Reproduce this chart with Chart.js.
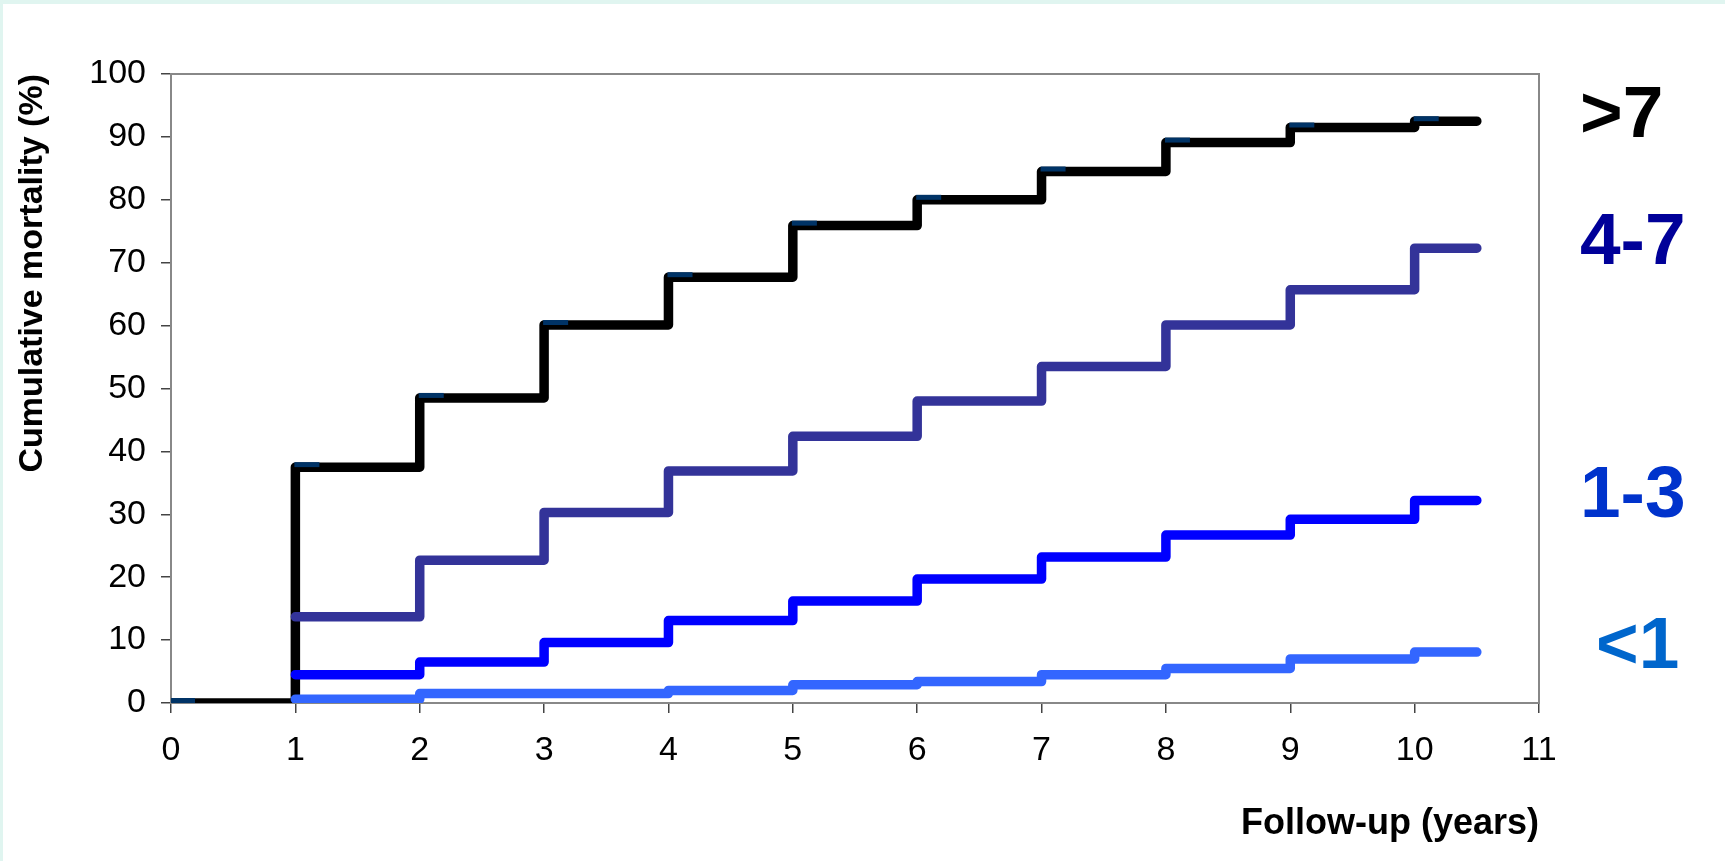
<!DOCTYPE html>
<html>
  <head>
    <meta charset="utf-8">
    <script src="https://cdn.jsdelivr.net/npm/chart.js@4.4.1/dist/chart.umd.min.js"></script>
    <style>
      body { margin: 0; background: #e0f5f0; }
      #wrap { position: absolute; left: 3px; top: 4px; width: 1722px; height: 857px; background: #ffffff; }
    </style>
  </head>
  <body>
    <div id="wrap"><canvas id="myChart"></canvas></div>
    <script>
      // follow-up years (last point only closes the final step)
      var years = [0, 1, 2, 3, 4, 5, 6, 7, 8, 9, 10, 10.5];
      // cumulative mortality (%) per group
      var gt7 = [0, 37.5, 48.5, 60.1, 67.7, 75.9, 80.0, 84.5, 89.1, 91.5, 92.5, 92.5];
      var g4to7 = [null, 13.7, 22.7, 30.3, 36.9, 42.4, 48.0, 53.5, 60.1, 65.7, 72.3, 72.3];
      var g1to3 = [null, 4.5, 6.5, 9.6, 13.1, 16.2, 19.7, 23.2, 26.7, 29.2, 32.2, 32.2];
      var lt1 = [null, 0.6, 1.5, 1.5, 2.0, 2.9, 3.4, 4.5, 5.5, 7.0, 8.1, 8.1];

      var groupNames = [">7", "4-7", "1-3", "<1"];
      var lineColors = ["#000000", "#333399", "#0000ff", "#3366ff"];
      var labelColors = ["#000000", "#000099", "#0033cc", "#0066cc"];

      var font = "'Liberation Sans', Arial, sans-serif";

      function toPoints(vals) {
        var pts = [];
        for (var i = 0; i < years.length; i++) {
          if (vals[i] !== null) pts.push({ x: years[i], y: vals[i] });
        }
        return pts;
      }

      // small dark dash marker, sitting to the right of each point
      var dash = document.createElement("canvas");
      dash.width = 50;
      dash.height = 14;
      var dctx = dash.getContext("2d");
      dctx.fillStyle = "#003366";
      dctx.fillRect(24, 2, 25, 5);

      var series = [gt7, g4to7, g1to3, lt1];
      var datasets = [];
      // reversed so the black curve sits underneath the others
      for (var s = series.length - 1; s >= 0; s--) {
        var isBlack = s === 0;
        var radii = years.map(function (y, i) { return isBlack && i < years.length - 1 ? 5 : 0; });
        datasets.push({
          label: groupNames[s],
          data: toPoints(series[s]),
          borderColor: lineColors[s],
          backgroundColor: lineColors[s],
          borderWidth: 9.5,
          borderCapStyle: "round",
          borderJoinStyle: "round",
          stepped: "before",
          tension: 0,
          fill: false,
          pointStyle: isBlack ? dash : "circle",
          pointRadius: radii,
          pointHoverRadius: radii
        });
      }

      // box round the plot area and the group names at the line ends
      var extras = {
        id: "extras",
        beforeDatasetsDraw: function (chart) {
          var a = chart.chartArea, ctx = chart.ctx;
          ctx.save();
          ctx.strokeStyle = "#888888";
          ctx.lineWidth = 2;
          ctx.strokeRect(a.left, a.top, a.right - a.left, a.bottom - a.top);
          ctx.restore();
        },
        afterDraw: function (chart) {
          var ctx = chart.ctx, yScale = chart.scales.y;
          ctx.save();
          ctx.font = "bold 73px " + font;
          ctx.textAlign = "left";
          ctx.textBaseline = "middle";
          for (var s = 0; s < series.length; s++) {
            var last = series[s][series[s].length - 1];
            var shift = groupNames[s] === "<1" ? 57 : 41;
            ctx.fillStyle = labelColors[s];
            ctx.fillText(groupNames[s], chart.chartArea.right + shift, yScale.getPixelForValue(last) - 4);
          }
          ctx.restore();
        }
      };

      var ctx = document.getElementById("myChart");
      var myChart = new Chart(ctx, {
        type: "line",
        data: { datasets: datasets },
        plugins: [extras],
        options: {
          responsive: true,
          maintainAspectRatio: false,
          animation: false,
          layout: { padding: { top: 70, right: 186, left: 0, bottom: 0 } },
          plugins: {
            legend: { display: false },
            tooltip: { enabled: false }
          },
          scales: {
            x: {
              type: "linear",
              min: 0,
              max: 11,
              afterFit: function (scale) { scale.height = 158; },
              ticks: {
                stepSize: 1,
                padding: 17,
                color: "#000000",
                font: { family: font, size: 34 }
              },
              grid: { drawOnChartArea: false, drawTicks: true, tickLength: 10, color: "#444444", lineWidth: 1.5 },
              border: { display: true, color: "#666666", width: 2 },
              title: {
                display: true,
                text: "Follow-up (years)",
                align: "end",
                color: "#000000",
                padding: { top: 0, bottom: 15 },
                font: { family: font, size: 36, weight: "bold" }
              }
            },
            y: {
              min: 0,
              max: 100,
              afterFit: function (scale) { scale.width = 168; },
              ticks: {
                stepSize: 10,
                padding: 15,
                color: "#000000",
                font: { family: font, size: 34 }
              },
              grid: { drawOnChartArea: false, drawTicks: true, tickLength: 10, color: "#444444", lineWidth: 1.5 },
              border: { display: true, color: "#666666", width: 2 },
              title: {
                display: true,
                text: "Cumulative mortality (%)",
                align: "end",
                color: "#000000",
                padding: { top: 9, bottom: 0 },
                font: { family: font, size: 34, weight: "bold" }
              }
            }
          }
        }
      });
    </script>
  </body>
</html>
